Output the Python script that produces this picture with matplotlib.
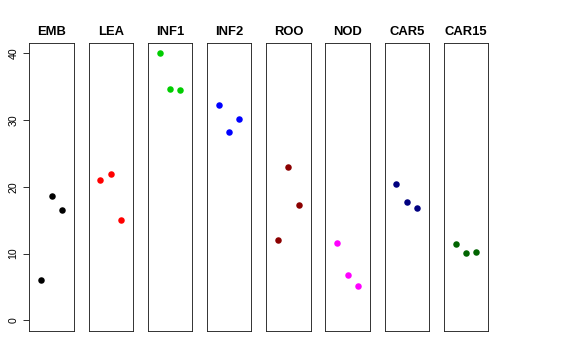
import matplotlib
matplotlib.use("Agg")
import matplotlib.pyplot as plt

plt.rcParams['font.family'] = ['Liberation Sans', 'DejaVu Sans']

groups = ["EMB", "LEA", "INF1", "INF2", "ROO", "NOD", "CAR5", "CAR15"]
colors = ["#000000", "#FF0000", "#00CD00", "#0000FF", "#8B0000", "#FF00FF", "#000080", "#006400"]
emb = [6.0, 18.7, 16.6]
lea = [21.1, 21.9, 15.0]
inf1 = [40.0, 34.6, 34.5]
inf2 = [32.2, 28.2, 30.2]
roo = [12.0, 23.0, 17.3]
nod = [11.6, 6.75, 5.15]
car5 = [20.4, 17.8, 16.9]
car15 = [11.5, 10.1, 10.3]
values = [emb, lea, inf1, inf2, roo, nod, car5, car15]
reps = [1, 2, 3]
yticks = [0, 10, 20, 30, 40]

W, H = 576, 360
fig = plt.figure(figsize=(W / 72, H / 72), dpi=72)

left0 = 29.3
step = 59.2
pw = 44.5
bottom_px = 331.0
top_px = 42.7

for i, (g, c, v) in enumerate(zip(groups, colors, values)):
    l = left0 + i * step
    ax = fig.add_axes([l / W, (H - bottom_px) / H, pw / W, (bottom_px - top_px) / H])
    ax.plot(reps, v, 'o', color=c, markersize=6.5, markeredgewidth=0)
    ax.set_xlim(-0.16, 4.16)
    ax.set_ylim(-1.6, 41.6)
    ax.set_xticks([])
    for s in ax.spines.values():
        s.set_linewidth(0.9)
        s.set_color("#222222")
    ax.set_title(g, fontsize=13, fontweight='bold', pad=8)
    if i == 0:
        ax.set_yticks(yticks)
        ax.set_yticklabels([str(t) for t in yticks], rotation=90, va='center', fontsize=10.5)
        ax.tick_params(axis='y', length=6, width=0.8, pad=5)
    else:
        ax.set_yticks([])

fig.savefig("out.png", dpi=72)
